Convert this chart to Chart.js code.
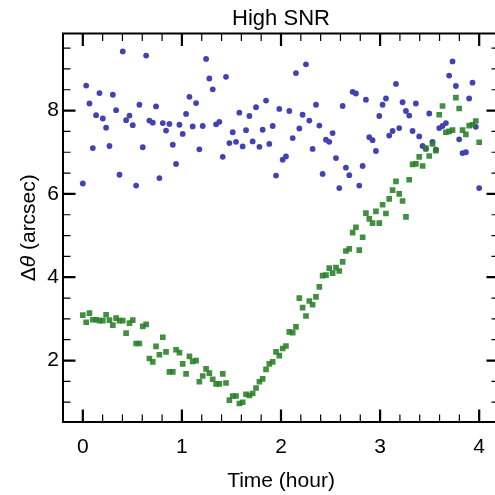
<!DOCTYPE html>
<html>
<head>
<meta charset="utf-8">
<script src="https://cdn.jsdelivr.net/npm/chart.js@4.4.1/dist/chart.umd.min.js"></script>
<style>
  html, body { margin: 0; padding: 0; background: #fff; overflow: hidden; }
  canvas { display: block; }
</style>
</head>
<body>
<canvas id="snrChart" width="505" height="495"></canvas>
<script>
// Instantes de cada amostra (hora)
const timeHours = [
  0.000, 0.034, 0.067, 0.101, 0.134, 0.168, 0.202, 0.235, 0.269, 0.303,
  0.336, 0.370, 0.403, 0.437, 0.471, 0.504, 0.538, 0.571, 0.605, 0.639,
  0.672, 0.706, 0.739, 0.773, 0.807, 0.840, 0.874, 0.908, 0.941, 0.975,
  1.008, 1.042, 1.076, 1.109, 1.143, 1.176, 1.210, 1.244, 1.277, 1.311,
  1.345, 1.378, 1.412, 1.445, 1.479, 1.513, 1.546, 1.580, 1.613, 1.647,
  1.681, 1.714, 1.748, 1.782, 1.815, 1.849, 1.882, 1.916, 1.950, 1.983,
  2.017, 2.050, 2.084, 2.118, 2.151, 2.185, 2.218, 2.252, 2.286, 2.319,
  2.353, 2.387, 2.420, 2.454, 2.487, 2.521, 2.555, 2.588, 2.622, 2.655,
  2.689, 2.723, 2.756, 2.790, 2.824, 2.857, 2.891, 2.924, 2.958, 2.992,
  3.025, 3.059, 3.092, 3.126, 3.160, 3.193, 3.227, 3.261, 3.294, 3.328,
  3.361, 3.395, 3.429, 3.462, 3.496, 3.529, 3.563, 3.597, 3.630, 3.664,
  3.697, 3.731, 3.765, 3.798, 3.832, 3.866, 3.899, 3.933, 3.966, 4.000
];

// Série azul (círculos)
const blueValues = [
  6.25, 8.60, 8.17, 7.10, 7.89, 8.42, 7.81, 7.59, 7.15, 8.38,
  8.01, 6.46, 9.42, 7.77, 7.88, 7.65, 6.20, 8.14, 7.12, 9.32,
  7.76, 7.71, 8.10, 6.38, 7.70, 7.52, 7.68, 7.18, 6.72, 7.66,
  7.44, 7.92, 8.33, 7.62, 8.18, 7.07, 7.63, 9.24, 8.77, 8.51,
  7.67, 7.73, 6.89, 8.81, 7.22, 7.48, 7.25, 7.95, 7.14, 7.53,
  7.87, 7.26, 8.08, 7.13, 7.54, 8.24, 7.20, 7.63, 6.44, 8.04,
  6.82, 6.90, 7.99, 7.34, 8.90, 7.57, 7.90, 9.11, 7.76, 7.08,
  8.14, 7.64, 6.48, 7.30, 7.25, 7.46, 6.86, 6.14, 8.11, 6.63,
  6.45, 8.45, 8.41, 6.20, 6.67, 8.26, 7.36, 7.29, 7.03, 7.87,
  8.14, 8.29, 7.40, 7.51, 8.64, 7.58, 8.20, 7.99, 7.88, 7.51,
  8.17, 7.38, 7.15, 7.08, 7.93, 7.25, 7.06, 7.58, 7.63, 7.70,
  8.84, 9.18, 8.59, 7.31, 6.98, 7.00, 8.29, 8.67, 7.61, 6.14
];

// Série verde (quadrados)
const greenValues = [
  3.09, 2.92, 3.14, 2.98, 2.98, 2.96, 2.96, 3.10, 2.97, 2.85,
  3.02, 2.96, 2.96, 2.66, 2.90, 2.97, 2.41, 2.41, 2.82, 2.87,
  2.05, 1.97, 2.34, 2.14, 2.56, 2.21, 1.73, 1.73, 2.26, 2.19,
  1.92, 1.68, 2.10, 1.98, 2.00, 1.49, 1.63, 1.80, 1.70, 1.55,
  1.44, 1.44, 1.68, 1.46, 1.05, 1.15, 1.15, 0.97, 1.00, 1.19,
  1.16, 1.21, 1.34, 1.49, 1.56, 1.79, 1.92, 1.97, 2.21, 2.12,
  2.29, 2.35, 2.69, 2.67, 2.81, 3.50, 3.27, 3.07, 3.43, 3.34,
  3.53, 3.77, 4.04, 4.05, 4.22, 4.10, 4.23, 4.15, 4.37, 4.63,
  4.68, 5.07, 5.20, 4.65, 4.96, 5.54, 5.40, 5.30, 5.58, 5.30,
  5.74, 5.53, 5.88, 6.09, 6.30, 6.00, 5.83, 5.45, 6.34, 6.71,
  6.72, 6.89, 6.67, 7.10, 6.91, 7.20, 7.04, 7.90, 8.11, 7.48,
  7.50, 7.53, 8.31, 8.05, 7.53, 7.43, 7.64, 7.66, 7.75, 7.24
];

// Marcas dos eixos e textos
const xTickValues = [0, 1, 2, 3, 4];
const yTickValues = [2, 4, 6, 8];
const chartTitle = 'High SNR';
const xAxisTitle = 'Time (hour)';
const yAxisTitleParts = [['Δ', ''], ['θ', 'italic '], [' (arcsec)', '']];

const FONT = '"Liberation Sans", Arial, sans-serif';
Chart.defaults.font.family = FONT;
Chart.defaults.color = '#000';

function toPoints(values) {
    return values.map((v, i) => ({ x: timeHours[i], y: v }));
}

// Ticks menores (sem rótulo)
const xMinor = [];
for (let v = 0.2; v < 4.2; v += 0.2) xMinor.push(+v.toFixed(1));
const yMinor = [];
for (let v = 1; v < 9.8; v += 0.5) yMinor.push(v);

// Moldura, ticks para dentro e textos
const framePlugin = {
    id: 'frame',
    afterDraw(chart) {
        const ctx = chart.ctx;
        const a = chart.chartArea;
        const xs = chart.scales.x;
        const ys = chart.scales.y;
        ctx.save();
        ctx.strokeStyle = '#000';

        function ticks(scale, values, len, width, horizontal) {
            ctx.lineWidth = width;
            values.forEach(v => {
                const p = scale.getPixelForValue(v);
                ctx.beginPath();
                if (horizontal) {
                    ctx.moveTo(p, a.bottom); ctx.lineTo(p, a.bottom - len);
                    ctx.moveTo(p, a.top); ctx.lineTo(p, a.top + len);
                } else {
                    ctx.moveTo(a.left, p); ctx.lineTo(a.left + len, p);
                    ctx.moveTo(a.right, p); ctx.lineTo(a.right - len, p);
                }
                ctx.stroke();
            });
        }
        ticks(xs, xMinor.filter(v => !xTickValues.includes(v)), 7.5, 1.2, true);
        ticks(ys, yMinor.filter(v => !yTickValues.includes(v)), 7.5, 1.2, false);
        ticks(xs, xTickValues, 12.5, 2.2, true);
        ticks(ys, yTickValues, 12.5, 2.2, false);

        ctx.lineWidth = 2;
        ctx.strokeRect(a.left, a.top, a.right - a.left, a.bottom - a.top);

        // título
        ctx.fillStyle = '#000';
        ctx.textAlign = 'center';
        ctx.textBaseline = 'alphabetic';
        ctx.font = '22px ' + FONT;
        ctx.fillText(chartTitle, (a.left + a.right) / 2, 25);

        // título do eixo x
        ctx.font = '21px ' + FONT;
        ctx.fillText(xAxisTitle, (a.left + a.right) / 2, 487);

        // título do eixo y (θ em itálico)
        ctx.translate(29, (a.top + a.bottom) / 2);
        ctx.rotate(-Math.PI / 2);
        ctx.textBaseline = 'middle';
        ctx.textAlign = 'left';
        let total = 0;
        yAxisTitleParts.forEach(([t, style]) => {
            ctx.font = style + '21px ' + FONT;
            total += ctx.measureText(t).width;
        });
        let x = -total / 2;
        yAxisTitleParts.forEach(([t, style]) => {
            ctx.font = style + '21px ' + FONT;
            ctx.fillText(t, x, 0);
            x += ctx.measureText(t).width;
        });
        ctx.restore();
    }
};

const ctx = document.getElementById('snrChart').getContext('2d');
const snrChart = new Chart(ctx, {
    type: 'scatter',
    data: {
        datasets: [
            {
                label: 'blue',
                data: toPoints(blueValues),
                pointStyle: 'circle',
                pointRadius: 2.9,
                backgroundColor: 'rgb(66, 66, 178)',
                borderWidth: 0,
                order: 2
            },
            {
                label: 'green',
                data: toPoints(greenValues),
                pointStyle: 'rect',
                pointRadius: 4,
                backgroundColor: 'rgba(40, 128, 40, 0.88)',
                borderWidth: 0,
                order: 1
            }
        ]
    },
    options: {
        responsive: false,
        animation: false,
        layout: { padding: { top: 33.5, right: 6, left: 0, bottom: 0 } },
        plugins: {
            legend: { display: false },
            tooltip: { enabled: false },
            title: { display: false }
        },
        scales: {
            x: {
                type: 'linear',
                min: -0.2,
                max: 4.2,
                grid: { display: false, drawTicks: false },
                border: { display: false },
                ticks: { font: { size: 21 }, padding: 13, color: '#000' },
                afterBuildTicks: s => { s.ticks = xTickValues.map(v => ({ value: v })); },
                afterFit: s => { s.height = 73; }
            },
            y: {
                type: 'linear',
                min: 0.525,
                max: 9.85,
                grid: { display: false, drawTicks: false },
                border: { display: false },
                ticks: { font: { size: 21 }, padding: 4, color: '#000' },
                afterBuildTicks: s => { s.ticks = yTickValues.map(v => ({ value: v })); },
                afterFit: s => { s.width = 63; }
            }
        }
    },
    plugins: [framePlugin]
});
</script>
</body>
</html>
